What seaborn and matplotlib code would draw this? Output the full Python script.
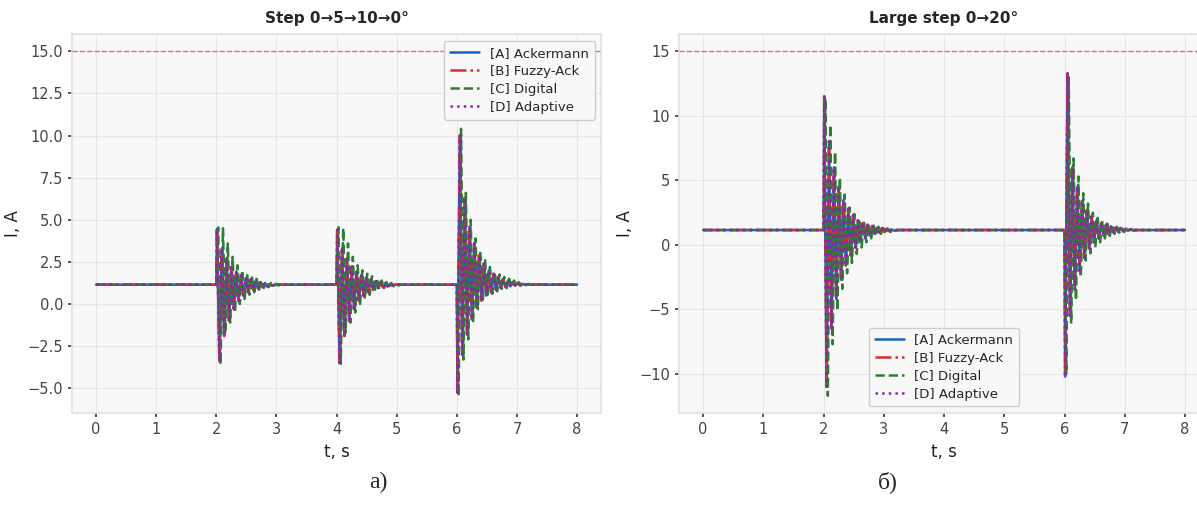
#!/usr/bin/env python3
"""Motor current transients for four controllers, two step scenarios."""

import matplotlib

matplotlib.use("Agg")

import matplotlib.pyplot as plt
import pandas as pd
import seaborn as sns

OUTPUT_PATH = "out.png"

T_END = 8.0
BASE_CURRENT = 1.15
CURRENT_LIMIT = 15.0
HALF_PERIOD = 0.04

CONTROLLERS = ["[A] Ackermann", "[B] Fuzzy-Ack", "[C] Digital", "[D] Adaptive"]
COLORS = ["#1565c0", "#d32f2f", "#2e7d32", "#8e24aa"]
LINESTYLES = ["-", "-.", "--", ":"]
# the digital controller lags the others by a few samples
LAGS = [0.0, 0.0, 0.02, 0.0]

TITLES = ["Step 0\u21925\u219210\u21920\u00b0", "Large step 0\u219220\u00b0"]
PANEL_LABELS = ["\u0430)", "\u0431)"]

# panel a: steps at 2, 4, 6 s -- alternating current peaks after each step
STEPS_A = [2.0, 4.0, 6.0]
PEAKS_A_FAST = [
    [4.45, -3.4, 3.3, -1.9, 2.7, -1.0, 2.2, -0.3, 1.9, 0.2, 1.7, 0.5, 1.55, 0.7,
     1.45, 0.85, 1.35, 0.95, 1.3, 1.0, 1.25, 1.05, 1.2, 1.1],
    [4.4, -3.5, 3.3, -1.9, 2.7, -1.0, 2.2, -0.3, 1.9, 0.2, 1.7, 0.5, 1.55, 0.7,
     1.45, 0.85, 1.35, 0.95, 1.3, 1.0, 1.25, 1.05, 1.2, 1.1],
    [-5.25, 10.0, -3.0, 6.3, -1.8, 4.6, -0.9, 3.6, -0.2, 2.9, 0.2, 2.4, 0.5, 2.0,
     0.7, 1.8, 0.85, 1.6, 0.95, 1.5, 1.0, 1.4, 1.05, 1.3, 1.1, 1.25, 1.12, 1.2],
]
PEAKS_A_DIGITAL = [
    [4.55, -3.6, 4.5, -1.7, 3.6, -1.1, 2.8, -0.5, 2.3, 0.0, 2.0, 0.3, 1.8, 0.55,
     1.65, 0.7, 1.5, 0.85, 1.4, 0.95, 1.3, 1.0, 1.25, 1.05, 1.2, 1.1],
    [4.55, -3.55, 4.5, -1.7, 3.6, -1.1, 2.8, -0.5, 2.3, 0.0, 2.0, 0.3, 1.8, 0.55,
     1.65, 0.7, 1.5, 0.85, 1.4, 0.95, 1.3, 1.0, 1.25, 1.05, 1.2, 1.1],
    [-5.45, 10.4, -3.3, 6.6, -2.1, 5.0, -1.1, 3.9, -0.3, 3.1, 0.1, 2.6, 0.4, 2.2,
     0.6, 1.9, 0.75, 1.75, 0.9, 1.6, 0.95, 1.5, 1.0, 1.4, 1.05, 1.3, 1.1, 1.25,
     1.12, 1.2],
]

# panel b: steps at 2 and 6 s
STEPS_B = [2.0, 6.0]
PEAKS_B_FAST = [
    [11.5, -11.0, 8.0, -6.5, 6.0, -4.2, 4.5, -2.7, 3.5, -1.6, 2.8, -0.8, 2.3, -0.2,
     1.9, 0.2, 1.7, 0.5, 1.55, 0.7, 1.45, 0.85, 1.35, 0.95, 1.3, 1.0, 1.25, 1.05,
     1.2, 1.1],
    [-10.2, 13.3, -5.5, 6.0, -3.5, 4.5, -2.0, 3.4, -1.0, 2.7, -0.3, 2.2, 0.2, 1.9,
     0.5, 1.7, 0.7, 1.55, 0.85, 1.45, 0.95, 1.35, 1.0, 1.3, 1.05, 1.25, 1.1, 1.2],
]
PEAKS_B_DIGITAL = [
    [11.3, -11.7, 9.3, -7.7, 7.2, -5.1, 5.2, -3.4, 3.9, -2.2, 2.9, -1.4, 2.4, -0.7,
     2.0, -0.2, 1.8, 0.2, 1.6, 0.5, 1.5, 0.7, 1.4, 0.85, 1.3, 0.95, 1.25, 1.0,
     1.2, 1.1],
    [-10.0, 13.0, -6.1, 6.7, -4.3, 5.3, -2.5, 4.0, -1.2, 3.2, -0.65, 2.5, -0.2, 2.1,
     0.2, 1.85, 0.5, 1.65, 0.7, 1.5, 0.85, 1.4, 0.95, 1.3, 1.0, 1.25, 1.05, 1.2,
     1.1],
]


def build_trace(steps, peak_sets, lag):
    times = [0.0]
    values = [BASE_CURRENT]
    for t0, peaks in zip(steps, peak_sets):
        times.append(t0)
        values.append(BASE_CURRENT)
        for k, peak in enumerate(peaks):
            times.append(t0 + 0.01 + lag + k * HALF_PERIOD)
            values.append(peak)
        times.append(times[-1] + HALF_PERIOD)
        values.append(BASE_CURRENT)
    times.append(T_END)
    values.append(BASE_CURRENT)
    return pd.DataFrame({"t": times, "i": values})


def plot_panel(ax, steps, fast_peaks, digital_peaks, title, legend_loc):
    for name, color, style, lag in zip(CONTROLLERS, COLORS, LINESTYLES, LAGS):
        peaks = digital_peaks if name.startswith("[C]") else fast_peaks
        frame = build_trace(steps, peaks, lag)
        sns.lineplot(
            data=frame, x="t", y="i", ax=ax, estimator=None, sort=False,
            color=color, linestyle=style, linewidth=1.8, label=name,
        )
    ax.axhline(CURRENT_LIMIT, color="#ff4d4d", linestyle="--", linewidth=1.0,
               alpha=0.85, zorder=3)
    ax.set_title(title, fontsize=11, fontweight="bold", pad=8)
    ax.set_xlabel("t, s", fontsize=12)
    ax.set_ylabel("I, A", fontsize=12)
    ax.set_xticks(range(0, 9))
    ax.legend(loc=legend_loc, fontsize=9.5, frameon=True, framealpha=0.95,
              edgecolor="#cccccc", handlelength=2.2, borderpad=0.45,
              labelspacing=0.38, handletextpad=0.8)


def main():
    sns.set_theme(style="whitegrid", rc={
        "axes.facecolor": "#f8f8f8",
        "axes.edgecolor": "#e2e2e2",
        "grid.color": "#e6e6e6",
        "grid.linewidth": 0.8,
        "xtick.bottom": True,
        "ytick.left": True,
        "xtick.major.size": 3,
        "ytick.major.size": 3,
        "xtick.color": "#444444",
        "ytick.color": "#444444",
        "xtick.labelsize": 10.5,
        "ytick.labelsize": 10.5,
        "axes.labelcolor": "#222222",
    })
    plt.rcParams["font.family"] = ["DejaVu Sans"]

    fig = plt.figure(figsize=(11.97, 5.05), dpi=100)
    ax_a = fig.add_axes([0.0602, 0.182, 0.442, 0.7505])
    ax_b = fig.add_axes([0.5673, 0.182, 0.4428, 0.7505])

    plot_panel(ax_a, STEPS_A, PEAKS_A_FAST, PEAKS_A_DIGITAL, TITLES[0], "upper right")
    plot_panel(ax_b, STEPS_B, PEAKS_B_FAST, PEAKS_B_DIGITAL, TITLES[1], "lower center")

    for x, label in zip([0.316, 0.742], PANEL_LABELS):
        fig.text(x, 0.045, label, ha="center", va="center", fontsize=17,
                 family="Liberation Serif")

    fig.savefig(OUTPUT_PATH, dpi=100)
    plt.close(fig)


if __name__ == "__main__":
    main()
